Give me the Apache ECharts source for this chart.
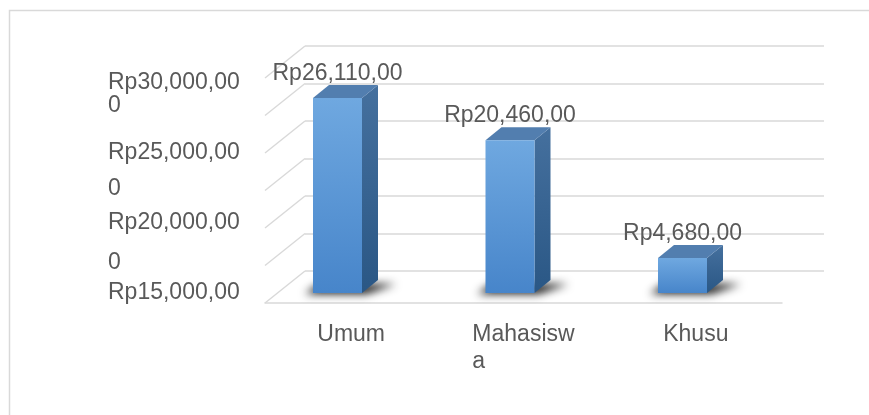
<!DOCTYPE html>
<html><head><meta charset="utf-8">
<script src="https://cdn.jsdelivr.net/npm/echarts@6/dist/echarts.min.js"></script>
<style>html,body{margin:0;padding:0;background:#fff}#c{width:869px;height:415px}</style>
</head><body><div id="c"></div>
<script>
// ---- data ----
const categories = ['Umum', 'Mahasiswa', 'Khusu'];
const values = [26110, 20460, 4680];
const yTickLabels = ['Rp15,000,00', 'Rp20,000,000', 'Rp25,000,000', 'Rp30,000,000'];
const gridValues = [0, 5000, 10000, 15000, 20000, 25000, 30000];
const valueMax = 30000, valueStep = 5000;

// ---- style ----
const FONT = "'Liberation Sans', Arial, sans-serif";
const TXT = '#595959';
const GRID_C = '#d9d9d9';
const FS = 23;
const DEPTH_X = -40, DEPTH_Y = 32;
const BAR_W = 49, BAR_DX = 16, BAR_DY = -13;
const SECOND_LINE_LH = [30, 50, 42, 15];   // wrapped-line spacing per y label
const CAT_MAX_W = 108;

function fmt(v) { return 'Rp' + v.toLocaleString('en-US') + ',00'; }

// character-level wrapping, wrapped lines left-aligned (as in the source chart)
const measureCtx = document.createElement('canvas').getContext('2d');
measureCtx.font = FS + 'px ' + FONT;
function wrapLabel(text) {
  const lines = [];
  let cur = '';
  for (const ch of text) {
    if (cur && measureCtx.measureText(cur + ch).width > CAT_MAX_W) { lines.push(cur); cur = ch; }
    else cur += ch;
  }
  lines.push(cur);
  if (lines.length === 1) return '{c|' + text + '}';
  return lines.map(s => '{l|' + s + '}').join('\n');
}

const yRich = { a: { fontFamily: FONT, fontSize: FS, color: TXT, lineHeight: 30 } };
SECOND_LINE_LH.forEach((lh, i) => { yRich['b' + i] = { fontFamily: FONT, fontSize: FS, color: TXT, lineHeight: lh }; });

const chart = echarts.init(document.getElementById('c'), null, { renderer: 'canvas' });
chart.setOption({
  animation: false,
  backgroundColor: '#fff',
  graphic: [{ type: 'rect', silent: true, z: -10,
    shape: { x: 9.5, y: 10.5, width: 900, height: 500 },
    style: { fill: 'none', stroke: GRID_C, lineWidth: 1.5 } }],
  grid: [
    { left: 305, right: 45, top: 46, bottom: 144 },
    { left: 251.25, right: 100.25, top: 69, bottom: 122 },
    { left: 108, width: 100, top: 68, bottom: 137 },
    { left: 265, right: 87, top: 46, bottom: 112 }
  ],
  xAxis: [
    { gridIndex: 0, type: 'category', data: categories, show: false },
    { gridIndex: 1, type: 'category', data: categories, show: false },
    { gridIndex: 2, type: 'value', show: false },
    { gridIndex: 3, type: 'category', data: categories,
      axisLine: { lineStyle: { color: GRID_C, width: 1.5 } }, axisTick: { show: false },
      axisLabel: { interval: 0, margin: 18,
        formatter: v => wrapLabel(v),
        rich: {
          c: { align: 'center', color: TXT, fontFamily: FONT, fontSize: FS, lineHeight: 27 },
          l: { align: 'left', color: TXT, fontFamily: FONT, fontSize: FS, lineHeight: 27 }
        } } }
  ],
  yAxis: [
    { gridIndex: 0, type: 'value', min: 0, max: valueMax, interval: valueStep,
      axisLine: { show: false }, axisTick: { show: false }, axisLabel: { show: false },
      splitLine: { lineStyle: { color: GRID_C, width: 1.5 } } },
    { gridIndex: 1, type: 'value', min: 0, max: valueMax, interval: valueStep, show: false },
    { gridIndex: 2, type: 'category', data: yTickLabels, boundaryGap: false,
      axisLine: { show: false }, axisTick: { show: false }, splitLine: { show: false },
      axisLabel: { interval: 0, align: 'left', verticalAlign: 'top', margin: 0,
        formatter: (v, i) => {
          const head = v.slice(0, 11), tail = v.slice(11);
          return tail ? '{a|' + head + '}\n{b' + i + '|' + tail + '}' : '{a|' + head + '}';
        },
        rich: yRich } },
    { gridIndex: 3, type: 'value', show: false }
  ],
  series: [
    { type: 'custom', xAxisIndex: 0, yAxisIndex: 0, silent: true, z: 1,
      data: gridValues.map(v => [0, v]), encode: { x: 0, y: 1 },
      renderItem(params, api) {
        const y = api.coord([0, api.value(1)])[1];
        const x = params.coordSys.x;
        return { type: 'line', shape: { x1: x, y1: y, x2: x + DEPTH_X, y2: y + DEPTH_Y },
          style: { stroke: GRID_C, lineWidth: 1.5 } };
      } },
    { type: 'custom', xAxisIndex: 1, yAxisIndex: 1, silent: true, z: 3,
      data: values.map((v, i) => [i, v]), encode: { x: 0, y: 1 },
      renderItem(params, api) {
        const idx = api.value(0), v = api.value(1);
        const tp = api.coord([idx, v]), bp = api.coord([idx, 0]);
        const l = tp[0] - BAR_W / 2, r = tp[0] + BAR_W / 2, t = tp[1], b = bp[1];
        const OFF = 3000;
        return { type: 'group', children: [
          { type: 'polygon',
            shape: { points: [[l - 8 - OFF, b + 1], [r + 4 - OFF, b + 1], [r + BAR_DX + 18 - OFF, b - 9], [l + 6 - OFF, b - 9]] },
            style: { fill: '#000', shadowBlur: 9, shadowColor: 'rgba(0,0,0,0.9)', shadowOffsetX: OFF, shadowOffsetY: 0 } },
          { type: 'polygon', shape: { points: [[r, t], [r + BAR_DX, t + BAR_DY], [r + BAR_DX, b + BAR_DY], [r, b]] },
            style: { fill: new echarts.graphic.LinearGradient(0, 0, 0, 1, [
              { offset: 0, color: '#45709e' }, { offset: 1, color: '#2a5785' }]) } },
          { type: 'polygon', shape: { points: [[l, t], [l + BAR_DX, t + BAR_DY], [r + BAR_DX, t + BAR_DY], [r, t]] },
            style: { fill: '#527eaf' } }
        ] };
      } },
    { type: 'bar', xAxisIndex: 1, yAxisIndex: 1, data: values, barWidth: BAR_W, z: 4,
      itemStyle: { color: new echarts.graphic.LinearGradient(0, 0, 0, 1, [
        { offset: 0, color: '#6fa8e0' }, { offset: 1, color: '#4785ca' }]) },
      label: { show: true, position: 'top', distance: 13, color: TXT, fontFamily: FONT, fontSize: FS,
        formatter: p => fmt(p.value) } }
  ]
});
</script></body></html>
